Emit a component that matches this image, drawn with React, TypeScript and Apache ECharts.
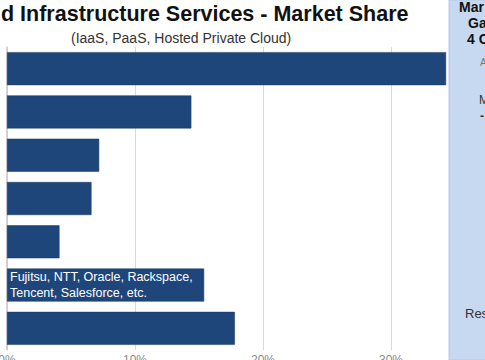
import React, { useEffect, useRef } from "react";
import * as echarts from "echarts";

const categories = ["Amazon", "Microsoft", "IBM", "Google", "Alibaba", "Next 10", "Rest of Market"];
const shares = [34.3, 14.4, 7.2, 6.6, 4.1, 15.4, 17.8];
const tickLabels = ["0%", "10%", "20%", "30%", "40%"];
const nextTenLabel = "Fujitsu, NTT, Oracle, Rackspace,\nTencent, Salesforce, etc.";
const titleText = "d Infrastructure Services - Market Share";
const subtitleText = "(IaaS, PaaS, Hosted Private Cloud)";
const panelHeading = ["Mar", "Ga", "4 C"];

const BAR = "#1f467a";

export default function App() {
  const ref = useRef<HTMLDivElement>(null);
  useEffect(() => {
    if (!ref.current) return;
    const chart = echarts.init(ref.current, undefined, { renderer: "svg" });
    chart.setOption({
      animation: false,
      backgroundColor: "#ffffff",
      textStyle: { fontFamily: "Liberation Sans, Arial, sans-serif" },
      grid: { left: 7, top: 47, width: 512, height: 303, outerBoundsMode: "none", containLabel: false },
      xAxis: {
        type: "value",
        min: 0,
        max: 40,
        interval: 10,
        axisLine: { show: false },
        axisTick: { show: false },
        splitLine: { show: true, lineStyle: { color: "#d9d9d9", width: 1 } },
        axisLabel: {
          margin: 4,
          color: "#8c8c8c",
          fontSize: 12,
          formatter: (v: number) => tickLabels[Math.round(v / 10)],
        },
      },
      yAxis: {
        type: "category",
        data: categories,
        inverse: true,
        axisLine: { show: true, lineStyle: { color: "#c8c8c8", width: 1.5 } },
        axisTick: { show: false },
        axisLabel: { show: false },
      },
      series: [
        {
          type: "bar",
          data: shares.map((v, i) =>
            i === 5
              ? {
                  value: v,
                  label: {
                    show: true,
                    position: "insideLeft",
                    distance: 3,
                    formatter: nextTenLabel,
                    color: "#ffffff",
                    fontSize: 12.5,
                    lineHeight: 16,
                    overflow: "none",
                  },
                }
              : v
          ),
          barWidth: 33,
          itemStyle: { color: BAR, borderColor: "#17375e", borderWidth: 0.5 },
        },
      ],
      graphic: [
        {
          type: "text",
          left: 1,
          top: 3,
          style: {
            text: titleText,
            font: "bold 21.5px 'Liberation Sans', Arial, sans-serif",
            fill: "#111111",
          },
        },
        {
          type: "text",
          left: 71,
          top: 31,
          style: {
            text: subtitleText,
            font: "14px 'Liberation Sans', Arial, sans-serif",
            fill: "#333333",
          },
        },
        {
          type: "rect",
          z: 100,
          shape: { x: 449, y: 0, width: 60, height: 360 },
          style: { fill: "#c6d9f0", stroke: "#b4c9e4", lineWidth: 1 },
        },
        ...panelHeading.map((t, i) => ({
          type: "text",
          z: 101,
          x: [459, 468, 467][i],
          y: [0, 16, 32][i],
          style: {
            text: t,
            font: "bold 14px 'Liberation Sans', Arial, sans-serif",
            fill: "#111111",
          },
        })),
        {
          type: "text",
          z: 101,
          x: 480,
          y: 57,
          style: { text: "A", font: "10px 'Liberation Sans', Arial, sans-serif", fill: "#777777" },
        },
        {
          type: "text",
          z: 101,
          x: 479,
          y: 94,
          style: { text: "M", font: "12px 'Liberation Sans', Arial, sans-serif", fill: "#333333" },
        },
        {
          type: "text",
          z: 101,
          x: 480,
          y: 110,
          style: { text: "-", font: "bold 12px 'Liberation Sans', Arial, sans-serif", fill: "#333333" },
        },
        {
          type: "text",
          z: 101,
          x: 465,
          y: 307,
          style: { text: "Res", font: "13px 'Liberation Sans', Arial, sans-serif", fill: "#333333" },
        },
      ],
    });
    return () => chart.dispose();
  }, []);
  return <div ref={ref} style={{ width: 485, height: 360, position: "absolute", left: 0, top: 0 }} />;
}
